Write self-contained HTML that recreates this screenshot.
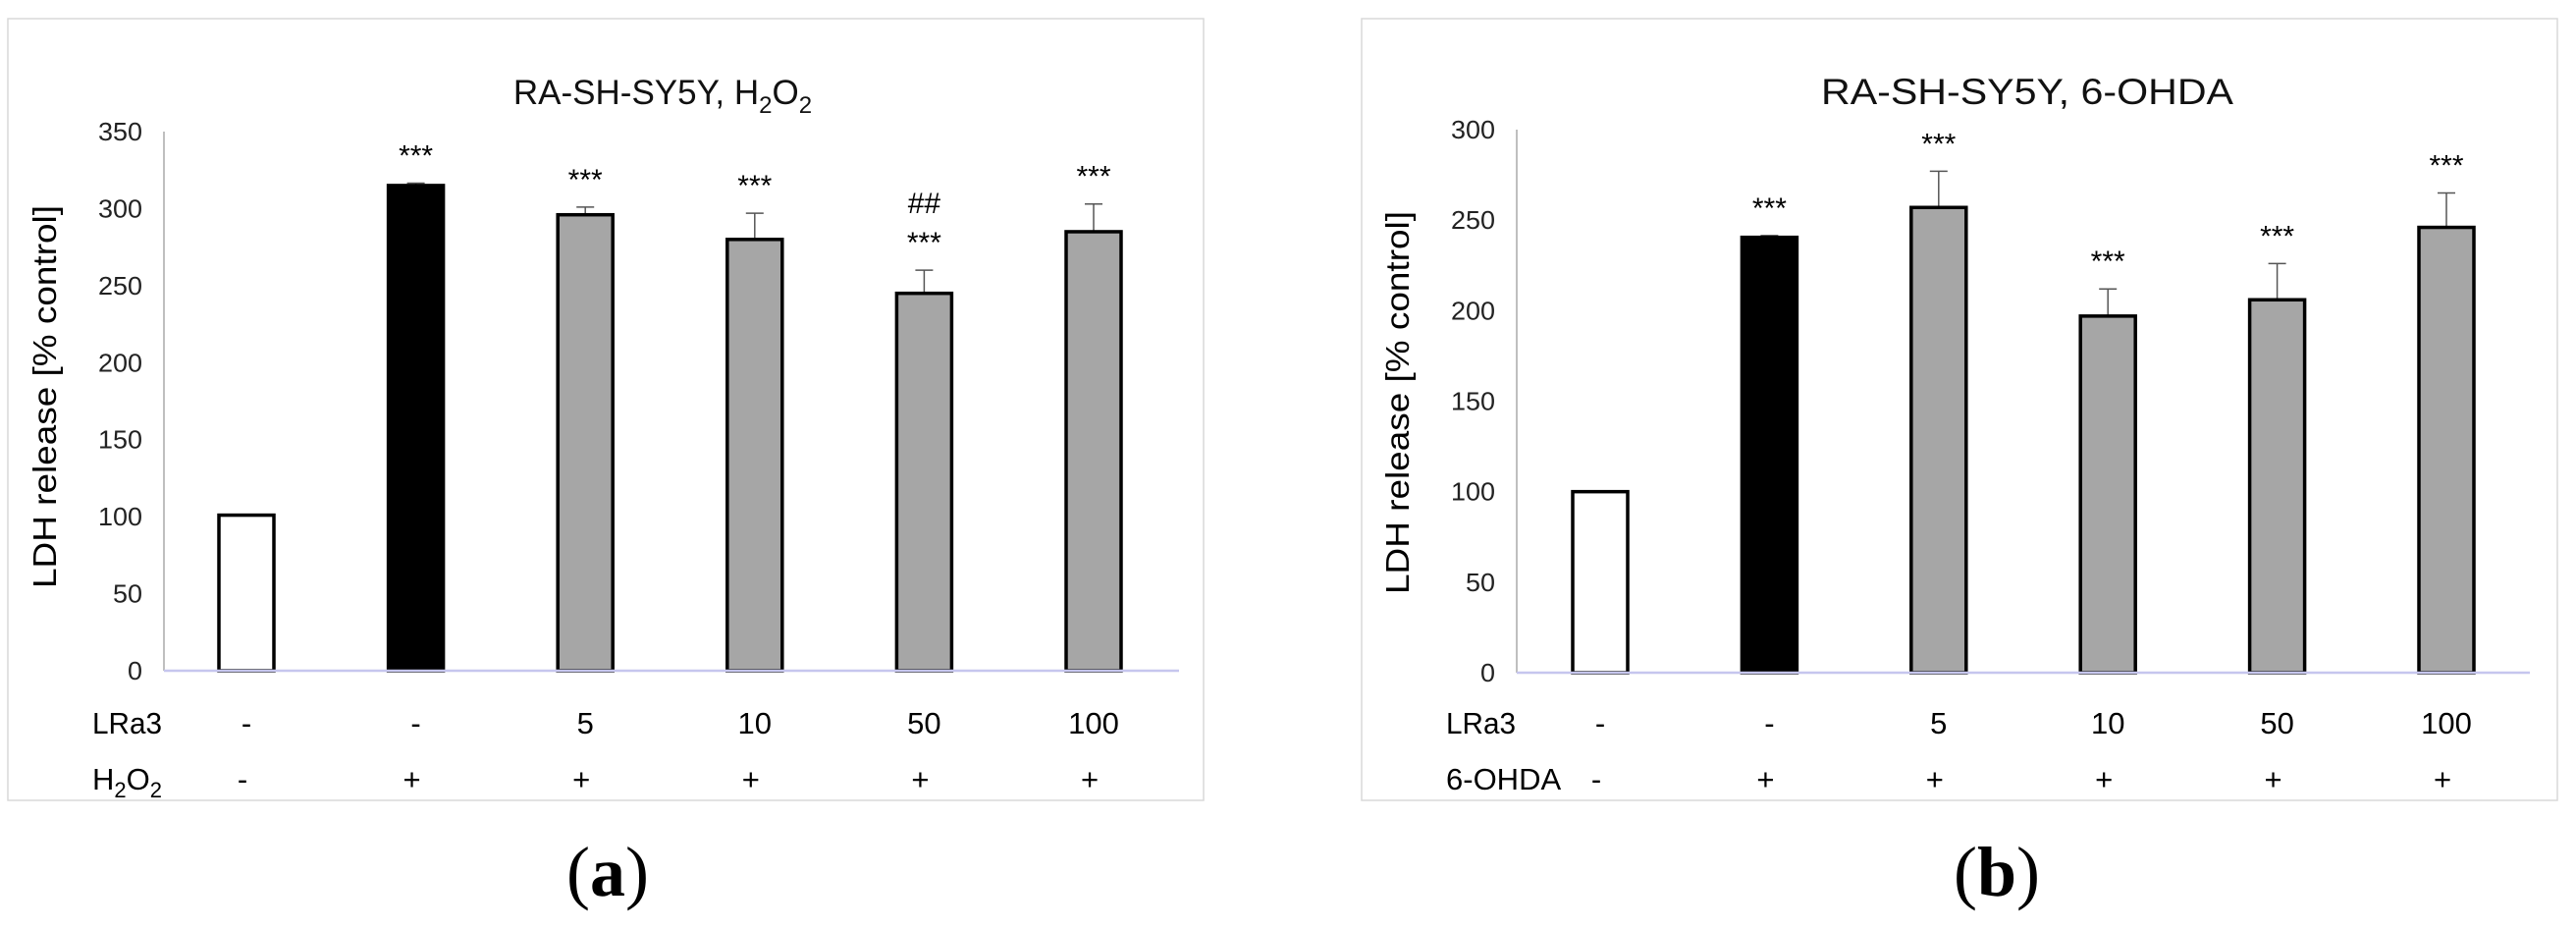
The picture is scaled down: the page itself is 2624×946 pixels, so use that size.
<!DOCTYPE html>
<html><head><meta charset="utf-8"><style>
html,body{margin:0;padding:0;background:#fff;}
svg{display:block;font-family:"Liberation Sans",sans-serif;}
</style></head>
<body>
<svg id="fig" width="2624" height="946" viewBox="0 0 2624 946"></svg>
<script>
// Panel (a) data
const catsA = ["-", "-", "5", "10", "50", "100"];
const h2o2A = ["-", "+", "+", "+", "+", "+"];
const valsA = [101, 315, 296, 280, 245, 285];
const errA = [0, 1.5, 5, 17, 15, 18];
const starsA = ["", "***", "***", "***", "***", "***"];
const hashA = ["", "", "", "", "##", ""];
const ticksA = [0, 50, 100, 150, 200, 250, 300, 350];
// Panel (b) data
const catsB = ["-", "-", "5", "10", "50", "100"];
const ohdaB = ["-", "+", "+", "+", "+", "+"];
const valsB = [100, 240.5, 257, 197, 206, 246];
const errB = [0, 1, 20, 15, 20, 19];
const starsB = ["", "***", "***", "***", "***", "***"];
const hashB = ["", "", "", "", "", ""];
const ticksB = [0, 50, 100, 150, 200, 250, 300];

const NS = "http://www.w3.org/2000/svg";
const svg = document.getElementById("fig");
function mk(tag, attrs, parent, text) {
  const e = document.createElementNS(NS, tag);
  for (const k in attrs) e.setAttribute(k, attrs[k]);
  if (text !== undefined) e.textContent = text;
  (parent || svg).appendChild(e);
  return e;
}
const fills = ["#ffffff", "#000000", "#a6a6a6", "#a6a6a6", "#a6a6a6", "#a6a6a6"];

function panel(o) {
  const g = mk("g", {});
  
  
  const fr = mk("rect", {x: o.bx0, y: 19, width: o.bx1 - o.bx0, height: 796, fill: "none", stroke: "#d9d9d9", "stroke-width": 1.5}, g);
  
  
  const yS = v => o.y0 - (v / o.vmax) * (o.y0 - o.ytop);
  const xS = i => o.xc0 + i * o.step;
  const t = mk("text", Object.assign({x: o.tx, y: 106, "font-size": o.tfs, "text-anchor": "middle", fill: "#111"}, o.tattrs), g);
  
  
  t.innerHTML = o.title;
  const ya = mk("line", {x1: o.ax, y1: o.ytop, x2: o.ax, y2: o.y0, stroke: "#bfbfbf", "stroke-width": 2}, g);
  
  
  o.ticks.forEach(v => {
    const tl = mk("text", {x: o.ax - 22, y: yS(v) + 9, "font-size": 26, "text-anchor": "end", fill: "#222", textLength: String(v).length * 15, lengthAdjust: "spacingAndGlyphs"}, g, v);
    
    
  });
  const yt = mk("text", {x: 0, y: 0, "font-size": 33, "text-anchor": "middle", fill: "#000", transform: `translate(${o.ytx},${o.yty}) rotate(-90)`, textLength: 390, lengthAdjust: "spacingAndGlyphs"}, g, "LDH release [% control]");
  
  
  o.vals.forEach((v, i) => {
    const x = xS(i), w = 56;
    if (o.err[i] > 0) {
      const e1 = mk("line", {x1: x, y1: yS(v), x2: x, y2: yS(v + o.err[i]), stroke: "#555", "stroke-width": 1.5}, g);
      
      
      const e2 = mk("line", {x1: x - 9, y1: yS(v + o.err[i]), x2: x + 9, y2: yS(v + o.err[i]), stroke: "#555", "stroke-width": 1.5}, g);
      
      
    }
    const b = mk("rect", {x: x - w / 2, y: yS(v), width: w, height: o.y0 - yS(v), fill: fills[i], stroke: "#000", "stroke-width": 3.5}, g);
    
    
    const top = yS(v + o.err[i]);
    if (o.stars[i]) {
      const s = mk("text", {x: x, y: top - 18, "font-size": 30, "text-anchor": "middle", fill: "#000"}, g, o.stars[i]);
      
      
    }
    if (o.hash[i]) {
      const h = mk("text", {x: x, y: top - 58, "font-size": 30, "text-anchor": "middle", fill: "#000"}, g, o.hash[i]);
      
      
    }
    const c = mk("text", {x: x, y: 747, "font-size": 31, "text-anchor": "middle", fill: "#000"}, g, o.cats[i]);
    
    
    const c2 = mk("text", {x: x - 4, y: 804, "font-size": 31, "text-anchor": "middle", fill: "#000"}, g, o.row2[i]);
    
    
  });
  const xa = mk("line", {x1: o.ax, y1: o.y0, x2: o.axr, y2: o.y0, stroke: "#c6c6ee", "stroke-width": 2.5}, g);
  
  
  const r1 = mk("text", {x: o.lx, y: 747, "font-size": 31, fill: "#000", textLength: 71, lengthAdjust: "spacingAndGlyphs"}, g, "LRa3");
  
  
  const r2 = mk("text", {x: o.lx, y: 804, "font-size": 31, fill: "#000"}, g);
  
  
  r2.innerHTML = o.row2label;
  const cap = mk("text", {x: o.capx, y: 912, "font-size": 72, "text-anchor": "middle", fill: "#000", "font-family": "Liberation Serif, serif"}, g);
  
  
  cap.innerHTML = o.cap;
}

panel({name: "panel-a", bx0: 8, bx1: 1226, tx: 675, tfs: 35, tattrs: {}, title: 'RA-SH-SY5Y, H<tspan font-size="24" dy="9">2</tspan><tspan dy="-9">O</tspan><tspan font-size="24" dy="9">2</tspan>',
  ax: 167, axr: 1201, y0: 683, ytop: 134, vmax: 350, xc0: 251, step: 172.6,
  ticks: ticksA, vals: valsA, err: errA, stars: starsA, hash: hashA, cats: catsA, row2: h2o2A,
  ytx: 57, yty: 404, lx: 94, row2label: 'H<tspan font-size="22" dy="8">2</tspan><tspan dy="-8">O</tspan><tspan font-size="22" dy="8">2</tspan>',
  capx: 619, cap: '(<tspan font-weight="bold">a</tspan>)'});
panel({name: "panel-b", bx0: 1387, bx1: 2605, tx: 2065, tfs: 37, tattrs: {textLength: 420, lengthAdjust: "spacingAndGlyphs"}, title: 'RA-SH-SY5Y, 6-OHDA',
  ax: 1545, axr: 2577, y0: 685, ytop: 132, vmax: 300, xc0: 1630, step: 172.4,
  ticks: ticksB, vals: valsB, err: errB, stars: starsB, hash: hashB, cats: catsB, row2: ohdaB,
  ytx: 1435, yty: 410, lx: 1473, row2label: '6-OHDA',
  capx: 2034, cap: '(<tspan font-weight="bold">b</tspan>)'});
</script>
</body></html>
